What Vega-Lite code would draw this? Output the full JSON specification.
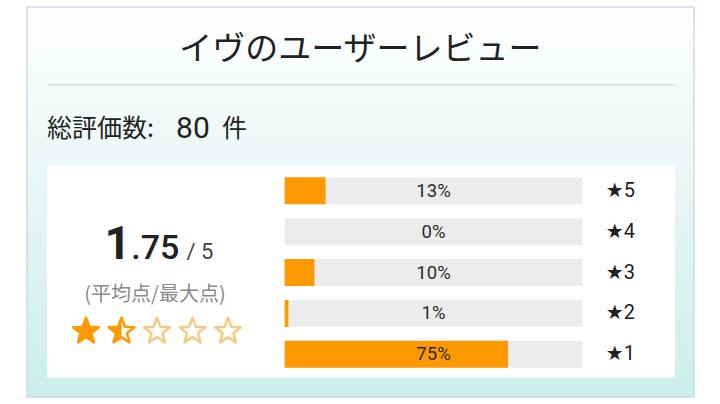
{
  "$schema": "https://vega.github.io/schema/vega-lite/v6.json",
  "width": 667,
  "height": 400,
  "autosize": {"type": "none"},
  "padding": {"left": 27, "top": 2, "right": 26, "bottom": 2},
  "background": "white",
  "config": {"view": {"stroke": null}, "axis": {"disable": true}},
  "datasets": {
    "bars": [
      {"star": 5, "name": "★5", "count": 11, "pct": 13.75, "label": "13%"},
      {"star": 4, "name": "★4", "count": 0, "pct": 0, "label": "0%"},
      {"star": 3, "name": "★3", "count": 8, "pct": 10, "label": "10%"},
      {"star": 2, "name": "★2", "count": 1, "pct": 1.25, "label": "1%"},
      {"star": 1, "name": "★1", "count": 60, "pct": 75, "label": "75%"}
    ],
    "stars": [
      {"i": 1, "state": "full"},
      {"i": 2, "state": "half"},
      {"i": 3, "state": "empty"},
      {"i": 4, "state": "empty"},
      {"i": 5, "state": "empty"}
    ],
    "one": [{"k": 1}]
  },
  "data": {"name": "bars"},
  "resolve": {"scale": {"x": "independent", "color": "independent"}},
  "layer": [
    {
      "layer": [
        {
          "data": {"name": "one"},
          "mark": {
            "type": "rect",
            "fill": {"gradient": "linear", "x1": 0, "y1": 0, "x2": 0, "y2": 1,
              "stops": [{"offset": 0, "color": "#ffffff"}, {"offset": 1, "color": "#cbeeeb"}]},
            "stroke": "#c9dce8",
            "strokeWidth": 1.5
          },
          "encoding": {
            "x": {"datum": -86.53, "type": "quantitative", "scale": {"domain": [-86.53, 137.47], "nice": false, "zero": false}, "axis": null},
            "x2": {"datum": 137.47},
            "y": {"datum": -0.044, "type": "quantitative", "scale": {"domain": [-0.044, 9.4956], "nice": false, "zero": false}, "axis": null},
            "y2": {"datum": 9.4956}
          }
        },
        {
          "data": {"name": "one"},
          "mark": {"type": "text", "text": "イヴのユーザーレビュー", "font": "Noto Sans CJK JP", "fontSize": 33, "color": "#222222", "align": "center", "baseline": "middle"},
          "encoding": {
            "x": {"datum": 25.45, "type": "quantitative"},
            "y": {"datum": 8.446, "type": "quantitative"}
          }
        },
        {
          "data": {"name": "one"},
          "mark": {"type": "rule", "color": "#dcdcdc", "strokeWidth": 1.5},
          "encoding": {
            "x": {"datum": -79.82, "type": "quantitative"},
            "x2": {"datum": 131.1},
            "y": {"datum": 7.595, "type": "quantitative"}
          }
        },
        {
          "data": {"name": "one"},
          "mark": {"type": "text", "text": "総評価数:", "font": "Noto Sans CJK JP", "fontSize": 25, "color": "#222222", "align": "left", "baseline": "middle"},
          "encoding": {
            "x": {"datum": -79.82, "type": "quantitative"},
            "y": {"datum": 6.514, "type": "quantitative"}
          }
        },
        {
          "data": {"name": "one"},
          "mark": {"type": "text", "text": "80", "font": "Roboto", "fontSize": 30, "color": "#222222", "align": "center", "baseline": "middle"},
          "encoding": {
            "x": {"datum": -30.8, "type": "quantitative"},
            "y": {"datum": 6.514, "type": "quantitative"}
          }
        },
        {
          "data": {"name": "one"},
          "mark": {"type": "text", "text": "件", "font": "Noto Sans CJK JP", "fontSize": 25, "color": "#222222", "align": "left", "baseline": "middle"},
          "encoding": {
            "x": {"datum": -21.06, "type": "quantitative"},
            "y": {"datum": 6.514, "type": "quantitative"}
          }
        },
        {
          "data": {"name": "one"},
          "mark": {"type": "rect", "fill": "#ffffff"},
          "encoding": {
            "x": {"datum": -79.82, "type": "quantitative"},
            "x2": {"datum": 131.1},
            "y": {"datum": 0.433, "type": "quantitative"},
            "y2": {"datum": 5.632}
          }
        },
        {
          "mark": {"type": "bar", "orient": "horizontal", "size": 27, "color": "#ececec"},
          "encoding": {
            "x": {"datum": 100, "type": "quantitative"},
            "x2": {"datum": 0},
            "y": {"field": "star", "type": "quantitative"}
          }
        },
        {
          "mark": {"type": "bar", "orient": "horizontal", "size": 27, "color": "#ff9900"},
          "encoding": {
            "x": {"field": "pct", "type": "quantitative"},
            "x2": {"datum": 0},
            "y": {"field": "star", "type": "quantitative"}
          }
        },
        {
          "mark": {"type": "text", "font": "Roboto", "fontSize": 18.5, "color": "#2a2a2a", "align": "center", "baseline": "middle"},
          "encoding": {
            "x": {"datum": 50, "type": "quantitative"},
            "y": {"field": "star", "type": "quantitative"},
            "text": {"field": "label"}
          }
        },
        {
          "mark": {"type": "text", "font": "Roboto, DejaVu Sans", "fontSize": 20, "color": "#222222", "align": "center", "baseline": "middle"},
          "encoding": {
            "x": {"datum": 112.76, "type": "quantitative"},
            "y": {"field": "star", "type": "quantitative"},
            "text": {"field": "name"}
          }
        },
        {
          "data": {"name": "one"},
          "mark": {"type": "text", "text": "1", "font": "Roboto", "fontSize": 46, "fontWeight": "bold", "color": "#222222", "align": "right", "baseline": "alphabetic"},
          "encoding": {
            "x": {"datum": -51.6, "type": "quantitative"},
            "y": {"datum": 3.326, "type": "quantitative"}
          }
        },
        {
          "data": {"name": "one"},
          "mark": {"type": "text", "text": ".75", "font": "Roboto", "fontSize": 34, "fontWeight": 500, "color": "#222222", "align": "left", "baseline": "alphabetic"},
          "encoding": {
            "x": {"datum": -51.5, "type": "quantitative"},
            "y": {"datum": 3.326, "type": "quantitative"}
          }
        },
        {
          "data": {"name": "one"},
          "mark": {"type": "text", "text": "/ 5", "font": "Roboto", "fontSize": 22, "color": "#444444", "align": "left", "baseline": "alphabetic"},
          "encoding": {
            "x": {"datum": -33.0, "type": "quantitative"},
            "y": {"datum": 3.326, "type": "quantitative"}
          }
        },
        {
          "data": {"name": "one"},
          "mark": {"type": "text", "text": "(平均点/最大点)", "font": "Noto Sans CJK JP", "fontSize": 20, "color": "#8a8a8a", "align": "center", "baseline": "middle"},
          "encoding": {
            "x": {"datum": -43.55, "type": "quantitative"},
            "y": {"datum": 2.46, "type": "quantitative"}
          }
        }
      ]
    },
    {
      "data": {"name": "stars"},
      "encoding": {
        "x": {"field": "i", "type": "quantitative", "scale": {"domain": [-0.662, 18.127], "nice": false, "zero": false}, "axis": null},
        "y": {"datum": 1.561, "type": "quantitative"}
      },
      "layer": [
        {
          "mark": {"type": "point", "shape": "M0,-1L0.2469,-0.3398L0.9511,-0.309L0.3995,0.1298L0.5878,0.809L0,0.42L-0.5878,0.809L-0.3995,0.1298L-0.9511,-0.309L-0.2469,-0.3398Z", "size": 740, "filled": false, "strokeWidth": 2.5, "strokeJoin": "round", "opacity": 1},
          "encoding": {
            "color": {"field": "state", "type": "nominal", "scale": {"domain": ["full", "half", "empty"], "range": ["#ff9900", "#ff9900", "#f7c982"]}, "legend": null}
          }
        },
        {
          "transform": [{"filter": "datum.state === 'full'"}],
          "mark": {"type": "point", "shape": "M0,-1L0.2469,-0.3398L0.9511,-0.309L0.3995,0.1298L0.5878,0.809L0,0.42L-0.5878,0.809L-0.3995,0.1298L-0.9511,-0.309L-0.2469,-0.3398Z", "size": 740, "filled": true, "color": "#ff9900", "opacity": 1}
        },
        {
          "transform": [{"filter": "datum.state === 'half'"}],
          "mark": {"type": "point", "shape": "M0,-1L0,0.42L-0.5878,0.809L-0.3995,0.1298L-0.9511,-0.309L-0.2469,-0.3398Z", "size": 740, "filled": true, "color": "#ff9900", "opacity": 1}
        }
      ]
    }
  ]
}
